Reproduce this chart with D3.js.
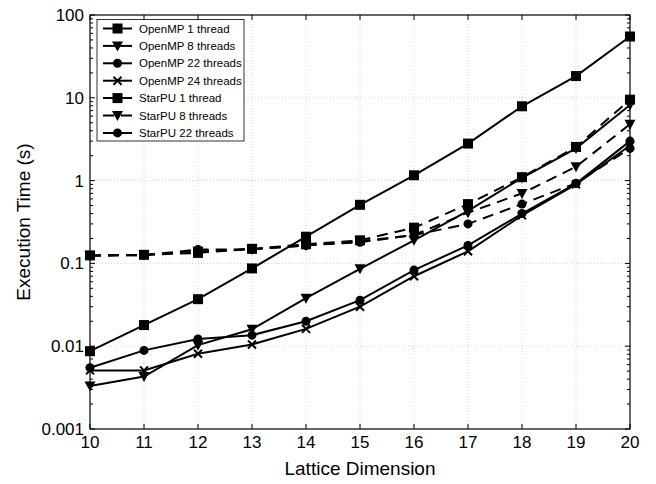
<!DOCTYPE html>
<html><head><meta charset="utf-8">
<script src="https://cdn.jsdelivr.net/npm/d3@7"></script>
<style>body{margin:0;background:#fff}svg{display:block}text{font-family:"Liberation Sans",Arial,sans-serif;fill:#000}</style>
</head><body><svg id="c" width="656" height="484"></svg>
<script>
const dims = [10,11,12,13,14,15,16,17,18,19,20];
const yTickValues = [0.001,0.01,0.1,1,10,100];
const yTickLabels = ["0.001","0.01","0.1","1","10","100"];
const seriesNames = ["OpenMP 1 thread","OpenMP 8 threads","OpenMP 22 threads","OpenMP 24 threads","StarPU 1 thread","StarPU 8 threads","StarPU 22 threads"];
const seriesMarkers = ["square","triangle","circle","cross","square","triangle","circle"];
const seriesDashed = [false,false,false,false,true,true,true];
const omp1  = [0.0087,0.018,0.037,0.087,0.21,0.51,1.16,2.8,7.9,18.3,55];
const omp8  = [0.0033,0.0043,0.0103,0.016,0.038,0.086,0.19,0.43,1.08,2.45,8.2];
const omp22 = [0.0055,0.0089,0.0122,0.0136,0.020,0.036,0.083,0.165,0.40,0.92,3.0];
const omp24 = [0.0051,0.0051,0.0081,0.0105,0.0162,0.030,0.070,0.140,0.38,0.90,2.65];
const spu1  = [0.125,0.127,0.134,0.15,0.17,0.19,0.27,0.52,1.1,2.55,9.5];
const spu8  = [0.124,0.126,0.14,0.148,0.165,0.185,0.22,0.41,0.70,1.47,4.8];
const spu22 = [0.124,0.126,0.147,0.148,0.165,0.18,0.22,0.30,0.52,0.93,2.45];
const seriesValues = [omp1,omp8,omp22,omp24,spu1,spu8,spu22];

const L=90,R=630,T=15,B=429;
const svg=d3.select("#c");
const x=d3.scaleLinear().domain([10,20]).range([L,R]);
const y=d3.scaleLog().domain([0.001,100]).range([B,T]);

// grid
const g=svg.append("g");
g.selectAll(".gx").data(dims.slice(1,-1)).join("line")
 .attr("x1",d=>x(d)).attr("x2",d=>x(d)).attr("y1",T).attr("y2",B)
 .attr("stroke","#c8c8c8").attr("stroke-width",0.8).attr("stroke-dasharray","1,2");
g.selectAll(".gy").data(yTickValues.slice(1,-1)).join("line")
 .attr("x1",L).attr("x2",R).attr("y1",d=>y(d)).attr("y2",d=>y(d))
 .attr("stroke","#c8c8c8").attr("stroke-width",0.8).attr("stroke-dasharray","1,2");

// ticks (inward)
const minor=[];
for(let e=-3;e<2;e++)for(let m=2;m<10;m++)minor.push(m*Math.pow(10,e));
const tk=svg.append("g").attr("stroke","#000").attr("stroke-width",1);
dims.forEach(d=>{
  tk.append("line").attr("x1",x(d)).attr("x2",x(d)).attr("y1",B).attr("y2",B-5);
  tk.append("line").attr("x1",x(d)).attr("x2",x(d)).attr("y1",T).attr("y2",T+5);
});
yTickValues.forEach(v=>{
  tk.append("line").attr("x1",L).attr("x2",L+5).attr("y1",y(v)).attr("y2",y(v));
  tk.append("line").attr("x1",R).attr("x2",R-5).attr("y1",y(v)).attr("y2",y(v));
});
minor.forEach(v=>{
  tk.append("line").attr("x1",L).attr("x2",L+3).attr("y1",y(v)).attr("y2",y(v));
  tk.append("line").attr("x1",R).attr("x2",R-3).attr("y1",y(v)).attr("y2",y(v));
});

// tick labels
svg.append("g").selectAll("text").data(dims).join("text")
 .attr("x",d=>x(d)).attr("y",B+19).attr("text-anchor","middle").attr("font-size",17).text(d=>d);
svg.append("g").selectAll("text").data(yTickValues).join("text")
 .attr("x",L-6).attr("y",d=>y(d)+6).attr("text-anchor","end").attr("font-size",17)
 .text((d,i)=>yTickLabels[i]);

// axis titles
svg.append("text").attr("x",(L+R)/2).attr("y",475).attr("text-anchor","middle").attr("font-size",19).text("Lattice Dimension");
svg.append("text").attr("transform",`translate(30,${(T+B)/2}) rotate(-90)`).attr("text-anchor","middle").attr("font-size",19).text("Execution Time (s)");

// markers
function marker(sel,type,cx,cy){
  if(type==="square") sel.append("rect").attr("x",cx-5).attr("y",cy-5).attr("width",10).attr("height",10).attr("fill","#000");
  else if(type==="triangle") sel.append("path").attr("d",`M${cx-5.5},${cy-4.5}L${cx+5.5},${cy-4.5}L${cx},${cy+5.5}Z`).attr("fill","#000");
  else if(type==="circle") sel.append("circle").attr("cx",cx).attr("cy",cy).attr("r",4.5).attr("fill","#000");
  else if(type==="cross") sel.append("path").attr("d",`M${cx-4},${cy-4}L${cx+4},${cy+4}M${cx-4},${cy+4}L${cx+4},${cy-4}`).attr("stroke","#000").attr("stroke-width",2);
}

// series
const line=d3.line().x((d,i)=>x(dims[i])).y(d=>y(d));
const sg=svg.append("g");
seriesValues.forEach((vals,si)=>{
  sg.append("path").attr("d",line(vals)).attr("fill","none").attr("stroke","#000")
   .attr("stroke-width",2).attr("stroke-dasharray",seriesDashed[si]?"11,7":null);
  vals.forEach((v,i)=>marker(sg,seriesMarkers[si],x(dims[i]),y(v)));
});

// frame
svg.append("rect").attr("x",L).attr("y",T).attr("width",R-L).attr("height",B-T)
 .attr("fill","none").attr("stroke","#000").attr("stroke-width",1.2);

// legend
const lg=svg.append("g");
lg.append("rect").attr("x",97).attr("y",19.5).attr("width",147).attr("height",121.5)
 .attr("fill","#fff").attr("stroke","#000").attr("stroke-width",0.8);
seriesNames.forEach((n,i)=>{
  const cy=28.5+i*17.4;
  lg.append("line").attr("x1",103).attr("x2",132).attr("y1",cy).attr("y2",cy)
   .attr("stroke","#000").attr("stroke-width",2).attr("stroke-dasharray",seriesDashed[i]?"11,7":null);
  marker(lg,seriesMarkers[i],117.5,cy);
  lg.append("text").attr("x",139).attr("y",cy+4).attr("font-size",11.5).text(n);
});
</script></body></html>
